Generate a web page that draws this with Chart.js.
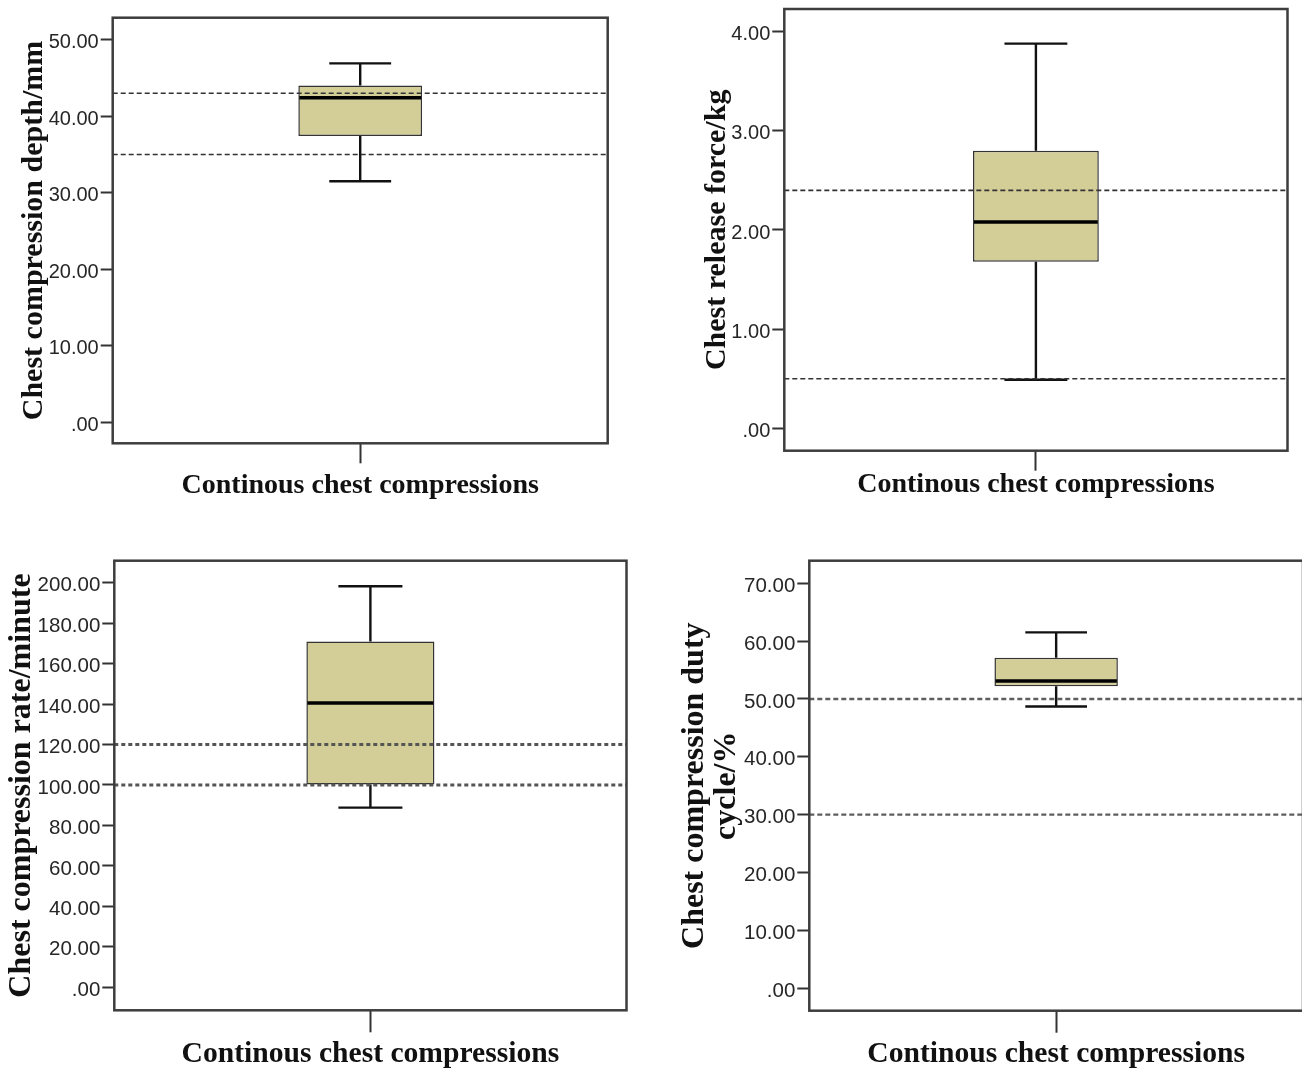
<!DOCTYPE html>
<html>
<head>
<meta charset="utf-8">
<script src="https://cdn.jsdelivr.net/npm/chart.js@4.4.1/dist/chart.umd.min.js"></script>
<style>
  html, body { margin: 0; padding: 0; background: #fff; }
  body { position: relative; width: 1302px; height: 1068px; overflow: hidden; }
  canvas { position: absolute; }
</style>
</head>
<body>
<canvas id="depthChart" width="650" height="520" style="left:0;top:0"></canvas>
<canvas id="releaseChart" width="650" height="520" style="left:650px;top:0"></canvas>
<canvas id="rateChart" width="650" height="538" style="left:0;top:530px"></canvas>
<canvas id="dutyChart" width="660" height="538" style="left:650px;top:530px"></canvas>
<script>
// category shared by all four panels
const groups = ["Continous chest compressions"];

// box stats: [lower whisker, Q1, median, Q3, upper whisker]
const depthStats = [31.5, 37.4, 42.4, 44.0, 46.9];
const releaseStats = [0.49, 1.68, 2.08, 2.8, 3.88];
const rateStats = [88.8, 100.2, 140.6, 171.0, 198.3];
const dutyStats = [48.7, 52.2, 53.1, 57.1, 61.5];

// reference (dashed) lines
const depthRefs = [35, 43];
const releaseRefs = [0.5, 2.4];
const rateRefs = [100, 120];
const dutyRefs = [30, 50];

// axis ranges and tick steps: [min, max, step]
const depthAxis = [-2.73, 52.86, 10];
const releaseAxis = [-0.226, 4.229, 1];
const rateAxis = [-11.4, 210.9, 20];
const dutyAxis = [-3.9, 73.9, 10];

function hasFont(name) {
  const c = document.createElement("canvas").getContext("2d");
  const s = "abcdefghij0123456789.";
  c.font = "40px monospace";
  const a = c.measureText(s).width;
  c.font = '40px "' + name + '", monospace';
  return c.measureText(s).width !== a;
}
const narrow = hasFont("Liberation Sans Narrow");
const tickFamily = narrow ? '"Liberation Sans Narrow", sans-serif' : '"Liberation Sans", Arial, sans-serif';
const tickScale = narrow ? 1.22 : 1;
const serif = '"Liberation Serif", "Times New Roman", serif';

const boxExtras = {
  id: "boxExtras",
  afterDatasetsDraw(chart, args, opts) {
    const { ctx, chartArea: a, scales: { y } } = chart;
    const [lo, q1, med, q3, hi] = opts.stats;
    const bar = chart.getDatasetMeta(0).data[0];
    const cx = bar.x, half = bar.width / 2, cap = bar.width / 4;
    ctx.save();
    // whiskers
    ctx.strokeStyle = "#111";
    ctx.lineWidth = 2.4;
    ctx.beginPath();
    ctx.moveTo(cx, y.getPixelForValue(q3));
    ctx.lineTo(cx, y.getPixelForValue(hi));
    ctx.moveTo(cx - cap, y.getPixelForValue(hi));
    ctx.lineTo(cx + cap, y.getPixelForValue(hi));
    ctx.moveTo(cx, y.getPixelForValue(q1));
    ctx.lineTo(cx, y.getPixelForValue(lo));
    ctx.moveTo(cx - cap, y.getPixelForValue(lo));
    ctx.lineTo(cx + cap, y.getPixelForValue(lo));
    ctx.stroke();
    // median
    ctx.strokeStyle = "#000";
    ctx.lineWidth = 3.5;
    ctx.beginPath();
    ctx.moveTo(cx - half + 1, y.getPixelForValue(med));
    ctx.lineTo(cx + half - 1, y.getPixelForValue(med));
    ctx.stroke();
    // reference lines
    ctx.setLineDash(opts.dash);
    ctx.lineWidth = opts.refWidth;
    ctx.strokeStyle = opts.refColor;
    ctx.beginPath();
    opts.refs.forEach(v => {
      const py = y.getPixelForValue(v);
      ctx.moveTo(a.left, py);
      ctx.lineTo(a.right, py);
    });
    ctx.stroke();
    ctx.setLineDash([]);
    // frame
    ctx.strokeStyle = "#3d3d3d";
    ctx.lineWidth = 2.5;
    ctx.strokeRect(a.left, a.top, a.right - a.left, a.bottom - a.top);
    ctx.restore();
  }
};

function makeBox(id, p) {
  const canvas = document.getElementById(id);
  const H = canvas.height, W = canvas.width;
  const [ymin, ymax, step] = p.axis;
  return new Chart(canvas, {
    type: "bar",
    data: {
      labels: groups,
      datasets: [{
        data: [[p.stats[1], p.stats[3]]],
        backgroundColor: "#D3CE98",
        borderColor: "#333",
        borderWidth: 1.5,
        borderSkipped: false,
        barPercentage: 0.25,
        categoryPercentage: 1
      }]
    },
    options: {
      responsive: false,
      animation: false,
      layout: { padding: { left: 0, top: p.area[1], right: W - p.area[2], bottom: 0 } },
      plugins: {
        legend: { display: false },
        tooltip: { enabled: false },
        boxExtras: { stats: p.stats, refs: p.refs, dash: p.dash, refWidth: p.refWidth, refColor: p.refColor }
      },
      scales: {
        x: {
          offset: true,
          border: { display: false },
          grid: { drawOnChartArea: false, drawTicks: true, offset: false, tickLength: p.xTick, tickWidth: 2, tickColor: "#333" },
          ticks: {
            color: "#111",
            padding: p.xPad,
            maxRotation: 0,
            autoSkip: false,
            font: { family: serif, weight: "bold", size: p.xFont, lineHeight: 1 }
          },
          afterFit: s => { s.height = H - p.area[3]; }
        },
        y: {
          min: ymin,
          max: ymax,
          bounds: "ticks",
          border: { display: false },
          grid: { drawOnChartArea: false, drawTicks: true, tickLength: 12, tickWidth: 2, tickColor: "#333" },
          ticks: {
            stepSize: step,
            includeBounds: true,
            autoSkip: false,
            padding: 2,
            labelOffset: 3,
            color: "#262626",
            font: { family: tickFamily, size: p.tickFont * tickScale },
            callback: v => Math.abs(v) < 1e-9 ? ".00" : v.toFixed(2)
          },
          afterBuildTicks: s => {
            const out = [];
            for (let k = Math.ceil(s.min / step); k * step <= s.max + 1e-9; k++) {
              out.push({ value: Math.round(k * step * 1000) / 1000 });
            }
            s.ticks = out;
          },
          title: {
            display: true,
            text: p.title,
            color: "#111",
            padding: { top: p.titlePad, bottom: 0 },
            font: { family: serif, weight: "bold", size: p.titleFont, lineHeight: 1 }
          },
          afterFit: s => {
            s.width = p.area[0];
            s.paddingTop = 0;
            s.paddingBottom = 0;
          }
        }
      }
    },
    plugins: [boxExtras]
  });
}

makeBox("depthChart", {
  stats: depthStats, refs: depthRefs, axis: depthAxis,
  area: [112.7, 17.7, 607.7, 443.3],
  title: "Chest compression depth/mm", titleFont: 30, titlePad: 19,
  tickFont: 20, xFont: 28, xTick: 20, xPad: 8,
  dash: [5, 3], refWidth: 1.6, refColor: "#333"
});

makeBox("releaseChart", {
  stats: releaseStats, refs: releaseRefs, axis: releaseAxis,
  area: [134.3, 9, 637.5, 450.7],
  title: "Chest release force/kg", titleFont: 30, titlePad: 52,
  tickFont: 20, xFont: 28, xTick: 20, xPad: 0,
  dash: [5, 3], refWidth: 1.6, refColor: "#333"
});

makeBox("rateChart", {
  stats: rateStats, refs: rateRefs, axis: rateAxis,
  area: [114.3, 30.7, 626.5, 480.3],
  title: "Chest compression rate/minute", titleFont: 32, titlePad: 5.5,
  tickFont: 20.5, xFont: 29.6, xTick: 22, xPad: 7,
  dash: [4, 3], refWidth: 3, refColor: "#555"
});

makeBox("dutyChart", {
  stats: dutyStats, refs: dutyRefs, axis: dutyAxis,
  area: [159.3, 30.7, 653, 480.7],
  title: ["Chest compression duty", "cycle/%"], titleFont: 32, titlePad: 29,
  tickFont: 20.5, xFont: 29.6, xTick: 22, xPad: 7,
  dash: [5, 3], refWidth: 2.4, refColor: "#5e5e5e"
});
</script>
</body>
</html>
